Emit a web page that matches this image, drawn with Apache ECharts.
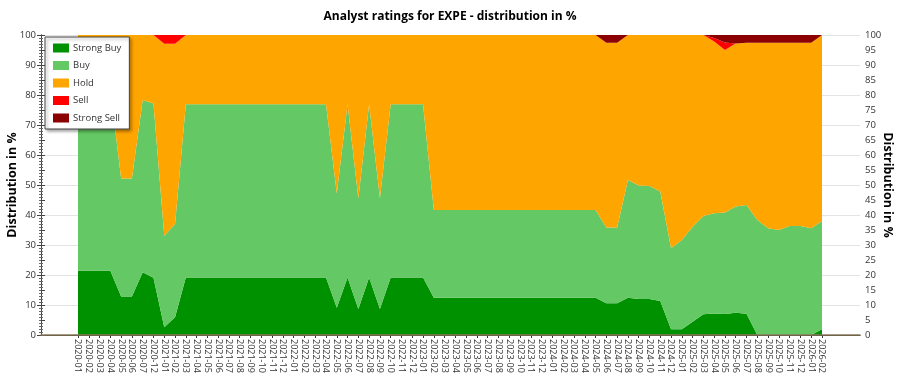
<!DOCTYPE html>
<html>
<head>
<meta charset="utf-8">
<script src="https://cdn.jsdelivr.net/npm/echarts@6/dist/echarts.min.js"></script>
<style>html,body{margin:0;padding:0;background:#fff}#c{width:900px;height:375px}</style>
</head>
<body>
<div id="c"></div>
<script>
const categories = ["2020-01","2020-02","2020-03","2020-04","2020-05","2020-06","2020-07","2020-12",
"2021-01","2021-02","2021-03","2021-04","2021-05","2021-06","2021-07","2021-08","2021-09","2021-10","2021-11","2021-12",
"2022-01","2022-02","2022-03","2022-04","2022-05","2022-06","2022-07","2022-08","2022-09","2022-10","2022-11","2022-12",
"2023-01","2023-02","2023-03","2023-04","2023-05","2023-06","2023-07","2023-08","2023-09","2023-10","2023-11","2023-12",
"2024-01","2024-02","2024-03","2024-04","2024-05","2024-06","2024-07","2024-08","2024-09","2024-10","2024-11","2024-12",
"2025-01","2025-02","2025-03","2025-04","2025-05","2025-06","2025-07","2025-08","2025-09","2025-10","2025-11","2025-12",
"2026-01","2026-02"];

const strongBuy = [21.4,21.4,21.4,21.4,12.8,12.8,20.9,19.1,2.6,5.9,
19.2,19.2,19.2,19.2,19.2,19.2,19.2,19.2,19.2,19.2,19.2,19.2,19.2,19.2,
9.1,19.2,8.7,19.2,8.7,
19.2,19.2,19.2,19.2,
12.4,12.4,12.4,12.4,12.4,12.4,12.4,12.4,12.4,12.4,12.4,12.4,12.4,12.4,12.4,12.4,
10.6,10.6,12.4,12.0,12.0,11.3,1.9,1.9,4.4,6.9,7.2,7.0,7.4,7.1,0,0,0,0,0,0,1.9];

const buy = [60.4,60.4,60.4,60.4,39.4,39.4,57.4,58.1,30.5,31.1,
57.7,57.7,57.7,57.7,57.7,57.7,57.7,57.7,57.7,57.7,57.7,57.7,57.7,57.7,
38.1,57.7,36.9,57.7,36.9,
57.7,57.7,57.7,57.7,
29.3,29.3,29.3,29.3,29.3,29.3,29.3,29.3,29.3,29.3,29.3,29.3,29.3,29.3,29.3,29.3,
25.2,25.2,39.3,37.8,37.7,36.5,27.0,29.8,31.7,32.8,33.4,33.8,35.4,36.2,38.3,35.6,35.0,36.3,36.3,35.6,36.1];

const hold = [18.2,18.2,18.2,18.2,47.8,47.8,21.7,22.8,64.0,60.1,
23.1,23.1,23.1,23.1,23.1,23.1,23.1,23.1,23.1,23.1,23.1,23.1,23.1,23.1,
52.8,23.1,54.4,23.1,54.4,
23.1,23.1,23.1,23.1,
58.3,58.3,58.3,58.3,58.3,58.3,58.3,58.3,58.3,58.3,58.3,58.3,58.3,58.3,58.3,58.3,
61.6,61.6,48.3,50.2,50.3,52.2,71.1,68.3,63.9,60.3,57.2,54.2,54.4,54.1,59.1,61.8,62.4,61.1,61.1,61.8,62.0];

const sell = [0,0,0,0,0,0,0,0,2.9,2.9,
0,0,0,0,0,0,0,0,0,0,0,0,0,0,
0,0,0,0,0,
0,0,0,0,
0,0,0,0,0,0,0,0,0,0,0,0,0,0,0,0,
0,0,0,0,0,0,0,0,0,0,1.2,2.5,0,0,0,0,0,0,0,0,0];

const strongSell = [0,0,0,0,0,0,0,0,0,0,
0,0,0,0,0,0,0,0,0,0,0,0,0,0,
0,0,0,0,0,
0,0,0,0,
0,0,0,0,0,0,0,0,0,0,0,0,0,0,0,0,
2.6,2.6,0,0,0,0,0,0,0,0,1.0,2.5,2.8,2.6,2.6,2.6,2.6,2.6,2.6,2.6,0];

const leftTicks = {min:0, max:100, interval:10};
const rightTicks = {min:0, max:100, interval:5};

const FONT = "'Open Sans', 'Noto Sans', sans-serif";
const seriesDefs = [
  ["Strong Buy", strongBuy, "#009100"],
  ["Buy", buy, "#64C864"],
  ["Hold", hold, "#FFA500"],
  ["Sell", sell, "#FF0000"],
  ["Strong Sell", strongSell, "#8B0000"]
];

const chart = echarts.init(document.getElementById('c'), null, {renderer:'canvas'});
chart.setOption({
  animation:false,
  textStyle:{fontFamily:FONT},
  title:{text:"Analyst ratings for EXPE - distribution in %", left:'center', top:6,
    textStyle:{fontFamily:FONT, fontSize:12, fontWeight:'bold', color:'#000'}},
  legend:{
    orient:'vertical', left:45, top:37,
    data:seriesDefs.map(s=>s[0]),
    backgroundColor:'#fff', borderColor:'#444', borderWidth:1,
    padding:[6,8,6,8], itemWidth:16, itemHeight:9, itemGap:7.5, icon:'rect',
    shadowBlur:3, shadowOffsetX:2, shadowOffsetY:2, shadowColor:'rgba(0,0,0,0.35)',
    textStyle:{fontFamily:FONT, fontSize:9.5, color:'#333', padding:[0,0,0,-1]},
    selectedMode:false
  },
  grid:[
    {left:41, right:40, top:35, bottom:40, show:false, containLabel:false, outerBoundsMode:'none'},
    {left:78, right:78, top:35, bottom:40, show:false, containLabel:false, outerBoundsMode:'none'}
  ],
  xAxis:[
    {gridIndex:0, type:'value', min:0, max:1, position:'bottom',
      axisLine:{show:true, lineStyle:{color:'#222', width:1}}, axisTick:{show:false}, axisLabel:{show:false}, splitLine:{show:false}},
    {gridIndex:0, type:'value', min:0, max:1, position:'top', z:10,
      axisLine:{show:true, lineStyle:{color:'#8a7a5a', width:1.5}}, axisTick:{show:false}, axisLabel:{show:false}, splitLine:{show:false}},
    {gridIndex:1, type:'category', data:categories, boundaryGap:false,
      axisLine:{show:false},
      axisTick:{show:true, length:3, alignWithLabel:true, interval:0, lineStyle:{color:'#333'}},
      axisLabel:{interval:0, rotate:-90, fontSize:9, color:'#333', margin:4, fontFamily:FONT}}
  ],
  yAxis:[
    {gridIndex:0, type:'value', position:'left', min:leftTicks.min, max:leftTicks.max, interval:leftTicks.interval,
      name:'Distribution in %', nameLocation:'middle', nameGap:22, nameMoveOverlap:false,
      nameTextStyle:{fontFamily:FONT, fontSize:12.5, fontWeight:'bold', color:'#000'},
      axisLine:{show:true, lineStyle:{color:'#444'}},
      axisTick:{show:true, length:4, lineStyle:{color:'#444'}},
      minorTick:{show:true, splitNumber:10, length:2, lineStyle:{color:'#666'}},
      axisLabel:{fontSize:9.5, color:'#333', margin:5, fontFamily:FONT},
      splitLine:{show:true, lineStyle:{color:'#e4e4e4', width:1}}},
    {gridIndex:0, type:'value', position:'right', min:rightTicks.min, max:rightTicks.max, interval:rightTicks.interval,
      name:'Distribution in %', nameLocation:'middle', nameGap:21, nameRotate:-90, nameMoveOverlap:false,
      nameTextStyle:{fontFamily:FONT, fontSize:12.5, fontWeight:'bold', color:'#000'},
      axisLine:{show:true, lineStyle:{color:'#444'}},
      axisTick:{show:true, length:4, lineStyle:{color:'#444'}},
      minorTick:{show:true, splitNumber:5, length:2, lineStyle:{color:'#666'}},
      axisLabel:{fontSize:9.5, color:'#333', margin:5, fontFamily:FONT},
      splitLine:{show:false}},
    {gridIndex:1, type:'value', min:0, max:100, show:false}
  ],
  series: seriesDefs.map(([name, data, color]) => ({
    name, type:'line', stack:'total', xAxisIndex:2, yAxisIndex:2,
    data, color, showSymbol:false, symbol:'none',
    lineStyle:{width:0, color},
    itemStyle:{color},
    areaStyle:{color, opacity:1},
    emphasis:{disabled:true}
  }))
});
</script>
</body>
</html>
